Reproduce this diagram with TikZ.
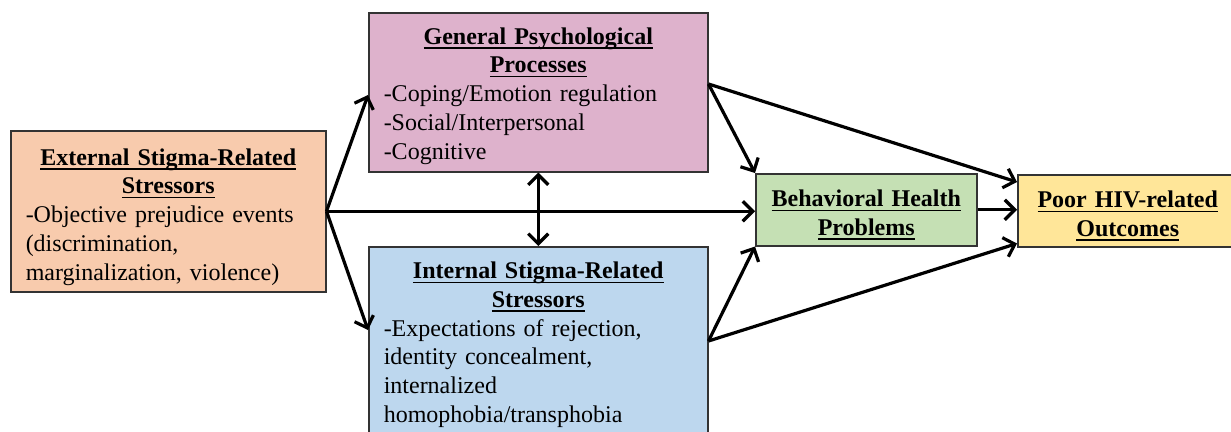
\documentclass[tikz,border=0pt]{standalone}
\usepackage{fontspec}
\setmainfont{Liberation Serif}
\usetikzlibrary{arrows.meta,calc}
\definecolor{extc}{HTML}{F8CBAD}
\definecolor{genc}{HTML}{DEB2CC}
\definecolor{intc}{HTML}{BDD7EE}
\definecolor{behc}{HTML}{C5E0B4}
\definecolor{poorc}{HTML}{FFE699}
\definecolor{boxline}{HTML}{333333}
\newcommand{\uln}[1]{\setbox0\hbox{#1}\leavevmode\rlap{\raisebox{-4.5pt}{\rule{\wd0}{1.6pt}}}\box0}
\newcommand{\tallstrut}[1]{\rule{0pt}{#1}}
\begin{document}
\begin{tikzpicture}[x=1pt,y=-1pt,
  box/.style={draw=boxline,line width=1.5pt,anchor=north west,inner ysep=0pt,
    font=\fontsize{24}{28.7}\selectfont},
  arr/.style={line width=3.2pt,-{Straight Barb[length=10pt,width=20pt,line width=3.2pt]}},
  darr/.style={line width=3.2pt,{Straight Barb[length=10pt,width=20pt,line width=3.2pt]}-{Straight Barb[length=10pt,width=20pt,line width=3.2pt]}}]
\useasboundingbox (0,0) rectangle (1231,431);
\begin{scope}
\clip (0,0) rectangle (1231,431);
\node[box,fill=extc,inner xsep=15pt,text width=285pt,minimum height=161pt] (ext) at (10,130)
  {{\bfseries\centering\tallstrut{28pt}\uln{External Stigma-Related}\\\uln{Stressors}\par}\raggedright
   -Objective prejudice events\\(discrimination,\\marginalization, violence)};
\node[box,fill=genc,inner xsep=15pt,text width=309pt,minimum height=159pt] (gen) at (368,12)
  {{\bfseries\centering\tallstrut{24pt}\uln{General Psychological}\\\uln{Processes}\par}\raggedright
   -Coping/Emotion regulation\\-Social/Interpersonal\\-Cognitive};
\node[box,fill=intc,inner xsep=15pt,text width=309pt,minimum height=196pt] (int) at (368,246)
  {{\bfseries\centering\uln{Internal Stigma-Related}\\\uln{Stressors}\par}\raggedright
   -Expectations of rejection,\\identity concealment,\\internalized\\homophobia/transphobia};
\node[box,fill=behc,inner xsep=5pt,text width=211pt,minimum height=72pt] (beh) at (755,173)
  {\bfseries\centering\tallstrut{27pt}\uln{Behavioral Health}\\\uln{Problems}\par};
\node[box,fill=poorc,inner xsep=5pt,text width=210pt,minimum height=72pt] (poor) at (1017,174)
  {\bfseries\centering\tallstrut{27pt}\uln{Poor HIV-related}\\\uln{Outcomes}\par};
\end{scope}
\coordinate (gs) at ($(gen.north east)+(0,72)$);
\coordinate (is) at ($(int.north east)+(0,95)$);
\coordinate (ge) at ($(gen.north west)+(0,83)$);
\coordinate (ie) at ($(int.north west)+(0,84)$);
\coordinate (pt) at ($(poor.north west)+(0,8)$);
\coordinate (pb) at ($(poor.south west)+(0,-4)$);
\draw[arr] (ext.east) -- (ge);
\draw[arr] (ext.east) -- (ie);
\draw[arr] (ext.east) -- (ext.east -| beh.west);
\draw[darr] (gen.south) -- (int.north);
\draw[arr] (gs) -- (pt);
\draw[arr] (gs) -- (beh.north west);
\draw[arr] (is) -- (beh.south west);
\draw[arr] (is) -- (pb);
\draw[arr] (beh.east) -- (beh.east -| poor.west);
\end{tikzpicture}
\end{document}
